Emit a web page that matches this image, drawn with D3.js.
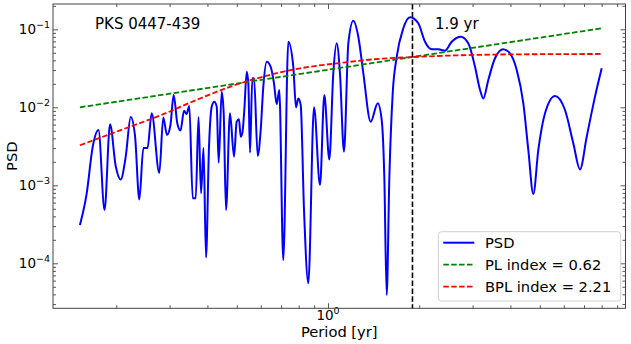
<!DOCTYPE html>
<html><head><meta charset="utf-8">
<script src="https://cdn.jsdelivr.net/npm/d3@7"></script>
<style>body{margin:0;background:#fff} svg{display:block} text{font-family:"DejaVu Sans",sans-serif;fill:#000}</style>
</head><body><svg id="c" width="631" height="344"></svg>
<script>
// ---- data ----
const periods = [0.1518,0.1598,0.1673,0.1748,0.1830,0.1908,0.1992,0.2069,0.2149,0.2233,
0.2307,0.2384,0.2458,0.2537,0.2619,0.2774,0.2860,0.2941,0.3020,0.3095,
0.3181,0.3260,0.3348,0.3412,0.3485,0.3577,0.3659,0.3738,0.3810,0.3883,
0.3957,0.4048,0.4132,0.4214,0.4292,0.4357,0.4458,0.4526,0.4606,0.4748,
0.4895,0.4996,0.5084,0.5150,0.5214,0.5294,0.5392,0.5458,0.5529,0.5626,
0.5700,0.5861,0.5996,0.6116,0.6275,0.6469,0.6633,0.6770,0.6906,0.7118,
0.7396,0.7682,0.7842,0.7980,0.8126,0.8333,0.8610,0.8990,0.9410,0.9723,
1.010,1.041,1.068,1.095,1.129,1.167,1.212,1.259,1.308,1.383,
1.459,1.504,1.534,1.562,1.594,1.635,1.686,1.772,1.865,1.986,
2.090,2.199,2.312,2.433,2.560,2.742,2.904,3.056,3.175,3.255,
3.381,3.557,3.789,3.987,4.196,4.411,4.582,4.760,4.944,5.202,
5.614,6.056,6.450,6.786,7.142,7.606,8.004];
const psd = [3.10e-4,7.90e-4,3.13e-3,5.12e-3,4.82e-4,6.05e-3,1.77e-3,1.19e-3,2.31e-3,7.51e-3,
4.29e-3,6.58e-4,3.01e-3,3.01e-3,8.38e-3,1.44e-3,7.40e-3,4.42e-3,5.93e-3,1.44e-2,
6.24e-3,5.04e-3,9.05e-3,8.21e-3,1.04e-2,6.81e-4,6.81e-4,7.51e-3,7.90e-4,3.01e-3,
1.19e-4,3.13e-3,1.02e-2,1.18e-2,1.02e-2,1.95e-3,1.585e-2,8.38e-3,4.82e-4,8.38e-3,
2.33e-3,6.54e-3,7.02e-3,4.20e-3,4.64e-3,9.24e-3,2.86e-2,2.03e-2,2.62e-3,2.35e-2,
2.35e-2,2.38e-3,5.12e-3,1.84e-2,3.84e-2,3.31e-2,2.03e-2,1.10e-2,1.67e-2,1.10e-4,
6.93e-2,3.31e-2,1.00e-2,1.30e-2,1.07e-2,4.82e-4,5.54e-5,1.00e-2,1.01e-3,1.44e-2,
2.15e-3,2.73e-2,6.61e-2,2.73e-2,2.70e-3,6.61e-2,0.129,8.04e-2,2.73e-2,6.54e-3,
1.13e-2,6.87e-3,1.29e-3,3.92e-5,1.29e-3,1.51e-2,4.45e-2,0.103,0.1425,0.1194,
6.93e-2,5.54e-2,5.54e-2,5.32e-2,6.93e-2,8.04e-2,6.61e-2,3.31e-2,1.67e-2,1.30e-2,
2.24e-2,4.25e-2,5.54e-2,4.92e-2,3.01e-2,1.13e-2,2.84e-3,7.74e-4,2.84e-3,8.38e-3,
1.40e-2,9.24e-3,3.46e-3,1.60e-3,4.20e-3,1.37e-2,3.16e-2];
const plPeriods = [0.1518, 8.004];
const plPsd = [0.0100, 0.1030];
const bplPeriods = [0.1518,0.2058,0.2790,0.3780,0.4748,0.5964,0.8085,1.095,1.484,1.908,2.527,3.696,5.404,8.004];
const bplPsd = [3.26e-3,5.06e-3,7.85e-3,1.297e-2,1.832e-2,2.41e-2,3.16e-2,3.70e-2,4.19e-2,4.41e-2,4.61e-2,4.75e-2,4.80e-2,4.83e-2];
const peakPeriod = 1.9;
const xMajorTicks = [1];
const xTickExponents = ["0"];
const yMajorTicks = [1e-4, 1e-3, 1e-2, 1e-1];
const yTickExponents = ["\u22124", "\u22123", "\u22122", "\u22121"];
const legendLabels = ["PSD", "PL index = 0.62", "BPL index = 2.21"];
const seriesColors = ["#0000ff", "#008000", "#ff0000"];
const sourceName = "PKS 0447-439";
const peakLabel = "1.9 yr";
const xTitle = "Period [yr]";
const yTitle = "PSD";

// ---- layout ----
const L = 53, R = 625.5, T = 4, B = 308.3;
const svg = d3.select("#c");
const x = d3.scaleLog().domain([0.1237, 9.59]).range([L, R]);
const y = d3.scaleLog().domain([2.649e-5, 0.2111]).range([B, T]);

const xMinor = [], yMinor = [];
for (let e = -1; e <= 0; e++) for (let k = 2; k <= 9; k++) { const v = k * Math.pow(10, e); if (v > x.domain()[0] && v < x.domain()[1]) xMinor.push(v); }
for (let e = -5; e <= -1; e++) for (let k = 2; k <= 9; k++) { const v = k * Math.pow(10, e); if (v > y.domain()[0] && v < y.domain()[1]) yMinor.push(v); }

const axisColor = "#444";
function addAxis(gen, tr, vals, size) {
  const g = svg.append("g").attr("transform", tr)
    .call(gen.tickValues(vals).tickSize(-size).tickSizeOuter(0).tickFormat(""));
  g.select(".domain").remove();
  g.selectAll("line").attr("stroke", axisColor).attr("stroke-width", 0.9);
}
[[5, xMajorTicks], [3, xMinor]].forEach(([s, v]) => {
  addAxis(d3.axisBottom(x), `translate(0,${B})`, v, s);
  addAxis(d3.axisTop(x), `translate(0,${T})`, v, s);
});
[[5, yMajorTicks], [3, yMinor]].forEach(([s, v]) => {
  addAxis(d3.axisLeft(y), `translate(${L},0)`, v, s);
  addAxis(d3.axisRight(y), `translate(${R},0)`, v, s);
});

// tick labels
xMajorTicks.forEach((v, i) => {
  const t = svg.append("text").attr("x", x(v)).attr("y", 320).attr("text-anchor", "middle").style("font-size", "13.5px");
  t.append("tspan").text("10");
  t.append("tspan").attr("dy", -6).style("font-size", "9.5px").text(xTickExponents[i]);
});
yMajorTicks.forEach((v, i) => {
  const t = svg.append("text").attr("x", 50).attr("y", y(v) + 4.8).attr("text-anchor", "end").style("font-size", "13.5px");
  t.append("tspan").text("10");
  t.append("tspan").attr("dy", -6).style("font-size", "9.5px").text(yTickExponents[i]);
});

// curves
const line = d3.line().x(d => x(d[0])).y(d => y(d[1]));
svg.append("clipPath").attr("id", "pc").append("rect").attr("x", L).attr("y", T).attr("width", R - L).attr("height", B - T);
const plot = svg.append("g").attr("clip-path", "url(#pc)");

plot.append("path").datum(periods.map((p, i) => [p, psd[i]]))
  .attr("d", line.curve(d3.curveMonotoneX)).attr("fill", "none")
  .attr("stroke", seriesColors[0]).attr("stroke-width", 2).attr("stroke-linejoin", "round");
plot.append("path").datum(plPeriods.map((p, i) => [p, plPsd[i]]))
  .attr("d", line.curve(d3.curveLinear)).attr("fill", "none")
  .attr("stroke", seriesColors[1]).attr("stroke-width", 1.8).attr("stroke-dasharray", "5.5,2.4");
plot.append("path").datum(bplPeriods.map((p, i) => [p, bplPsd[i]]))
  .attr("d", line.curve(d3.curveMonotoneX)).attr("fill", "none")
  .attr("stroke", seriesColors[2]).attr("stroke-width", 1.8).attr("stroke-dasharray", "5.5,2.4");

// vertical peak line
svg.append("line").attr("x1", x(peakPeriod)).attr("x2", x(peakPeriod)).attr("y1", T).attr("y2", B)
  .attr("stroke", "#000").attr("stroke-width", 1.6).attr("stroke-dasharray", "5.5,2.4");

// frame
svg.append("rect").attr("x", L).attr("y", T).attr("width", R - L).attr("height", B - T)
  .attr("fill", "none").attr("stroke", axisColor).attr("stroke-width", 1);

// annotations
svg.append("text").attr("x", 95).attr("y", 29.3).style("font-size", "15px").text(sourceName);
svg.append("text").attr("x", 435).attr("y", 29.3).style("font-size", "15px").text(peakLabel);

// axis titles
svg.append("text").attr("x", (L + R) / 2).attr("y", 337).attr("text-anchor", "middle").style("font-size", "14.7px").text(xTitle);
svg.append("text").attr("transform", `translate(16.5,${(T + B) / 2}) rotate(-90)`).attr("text-anchor", "middle").style("font-size", "14.7px").text(yTitle);

// legend
const lg = svg.append("g");
lg.append("rect").attr("x", 438.3).attr("y", 231.7).attr("width", 182.4).attr("height", 69.3).attr("rx", 3)
  .attr("fill", "#fff").attr("fill-opacity", 0.85).attr("stroke", "#d0d0d0").attr("stroke-width", 1);
legendLabels.forEach((lab, i) => {
  const ly = 242.7 + i * 22;
  const l = lg.append("line").attr("x1", 443.3).attr("x2", 474.3).attr("y1", ly).attr("y2", ly)
    .attr("stroke", seriesColors[i]).attr("stroke-width", i === 0 ? 2 : 1.8);
  if (i > 0) l.attr("stroke-dasharray", "5.5,2.4");
  lg.append("text").attr("x", 485).attr("y", ly + 5.4).style("font-size", "14.7px").text(lab);
});
</script></body></html>
